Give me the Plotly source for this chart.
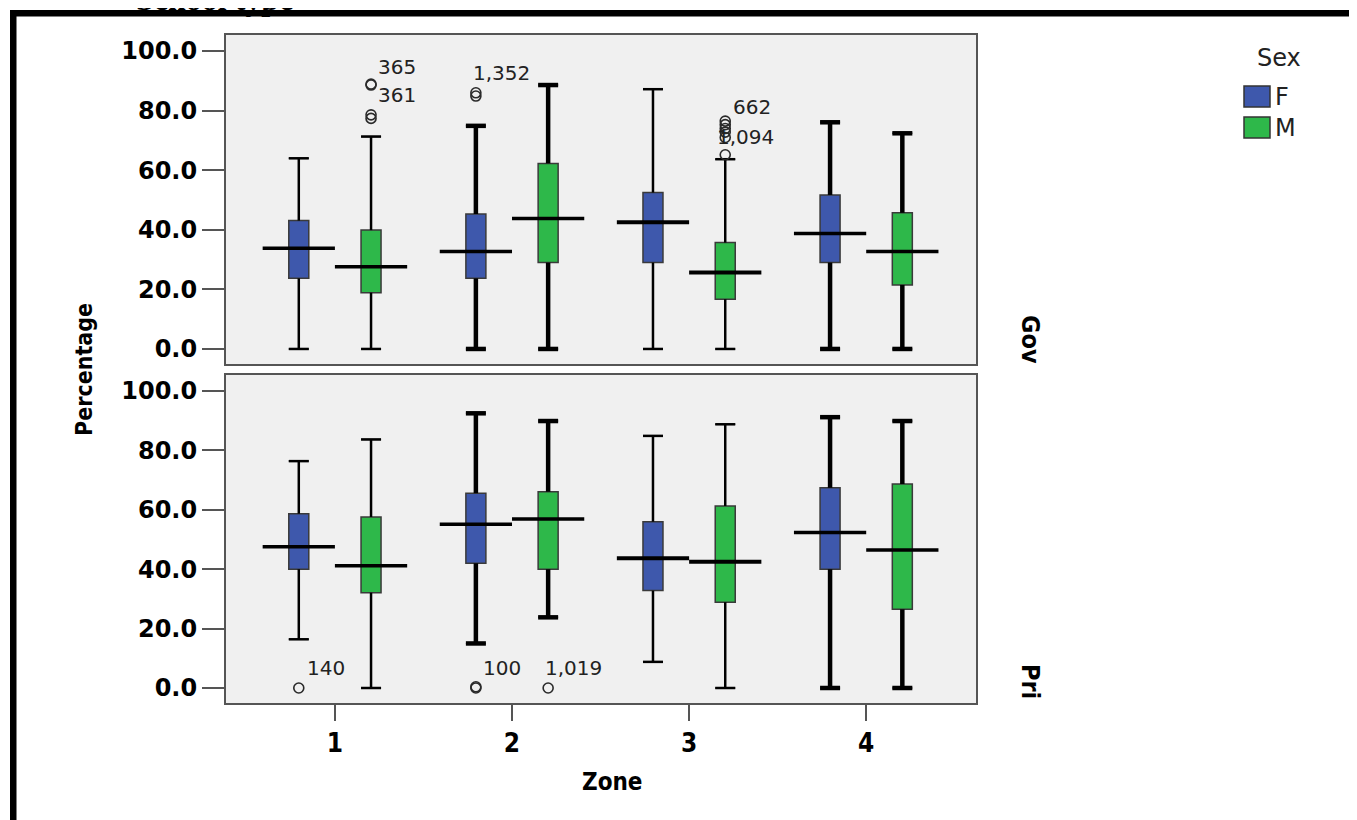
import plotly.graph_objects as go
from plotly.subplots import make_subplots

# ---------------- data ----------------
zones = [1, 2, 3, 4]
zone_labels = ["1", "2", "3", "4"]
sexes = ["F", "M"]
panels = ["Gov", "Pri"]
y_ticks = [0, 20, 40, 60, 80, 100]

# Gov (top panel)
gov_F_low = [0, 0, 0, 0]
gov_F_q1 = [23.7, 23.7, 29.0, 29.0]
gov_F_med = [33.8, 32.7, 42.5, 38.8]
gov_F_q3 = [43.1, 45.3, 52.5, 51.7]
gov_F_high = [64.0, 74.9, 87.2, 76.1]

gov_M_low = [0, 0, 0, 0]
gov_M_q1 = [18.9, 29.0, 16.7, 21.5]
gov_M_med = [27.6, 43.8, 25.7, 32.7]
gov_M_q3 = [39.9, 62.3, 35.7, 45.7]
gov_M_high = [71.3, 88.6, 63.7, 72.4]

# Pri (bottom panel)
pri_F_low = [16.4, 15.0, 8.8, 0]
pri_F_q1 = [40.0, 42.0, 32.8, 40.0]
pri_F_med = [47.6, 55.1, 43.7, 52.4]
pri_F_q3 = [58.7, 65.6, 56.0, 67.4]
pri_F_high = [76.4, 92.5, 84.9, 91.2]

pri_M_low = [0, 23.8, 0, 0]
pri_M_q1 = [32.1, 40.0, 28.9, 26.5]
pri_M_med = [41.2, 56.9, 42.5, 46.5]
pri_M_q3 = [57.6, 66.1, 61.3, 68.7]
pri_M_high = [83.7, 89.9, 88.8, 89.9]

# outliers
gov_out_zone = [1, 1, 1, 1, 2, 2, 3, 3, 3, 3, 3, 3]
gov_out_sex = ["M", "M", "M", "M", "F", "F", "M", "M", "M", "M", "M", "M"]
gov_out_val = [88.9, 88.6, 78.6, 77.4, 86.0, 84.9, 76.5, 75.3, 74.0, 72.8, 71.0, 65.2]

pri_out_zone = [1, 2, 2, 2]
pri_out_sex = ["F", "F", "F", "M"]
pri_out_val = [0, 0, 0.4, 0]

# outlier case labels
gov_lab_text = ["365", "361", "1,352", "662", "1,094"]
gov_lab_zone = [1, 1, 2, 3, 3]
gov_lab_sex = ["M", "M", "F", "M", "M"]
gov_lab_val = [88.9, 88.6, 86.0, 76.5, 71.0]

pri_lab_text = ["140", "100", "1,019"]
pri_lab_zone = [1, 2, 2]
pri_lab_sex = ["F", "F", "M"]
pri_lab_val = [0, 0, 0]

# ---------------- styling / layout ----------------
# window coordinates (the page adds an 8px body margin)
OFF = 8
WIN_W, WIN_H = 1357, 820
L, R, T, B = 226, 976, 35, 703
TOP_BOTTOM_PX = 364
BOT_TOP_PX = 375


def px_x(p):
    return (p - L) / (R - L)


def px_y(p):
    return (B - p) / (B - T)


BLUE = "#3E58AC"
GREEN = "#2EB84A"
colors = {"F": BLUE, "M": GREEN}
sex_offset = {"F": -0.204, "M": 0.204}
box_w = 0.113
med_half = 0.204
whisk_width = [2.5, 4.5, 2.5, 4.5]
med_width = [3.5, 3.5, 4.0, 3.5]

COND = "DejaVu Sans Condensed, Liberation Sans Narrow, Arial Narrow, sans-serif"
WIDE = "DejaVu Sans, Verdana, sans-serif"

stats = {
    ("Gov", "F"): (gov_F_low, gov_F_q1, gov_F_med, gov_F_q3, gov_F_high),
    ("Gov", "M"): (gov_M_low, gov_M_q1, gov_M_med, gov_M_q3, gov_M_high),
    ("Pri", "F"): (pri_F_low, pri_F_q1, pri_F_med, pri_F_q3, pri_F_high),
    ("Pri", "M"): (pri_M_low, pri_M_q1, pri_M_med, pri_M_q3, pri_M_high),
}
outliers = {
    "Gov": (gov_out_zone, gov_out_sex, gov_out_val),
    "Pri": (pri_out_zone, pri_out_sex, pri_out_val),
}
labels = {
    "Gov": (gov_lab_text, gov_lab_zone, gov_lab_sex, gov_lab_val),
    "Pri": (pri_lab_text, pri_lab_zone, pri_lab_sex, pri_lab_val),
}
# pixel shifts of the case-number labels (xshift, yshift)
label_shift = {
    "365": (5, 17), "361": (5, -10), "1,352": (-5, 20), "662": (6, 14),
    "1,094": (-10, 0), "140": (6, 20), "100": (5, 20), "1,019": (-5, 20),
}

fig = make_subplots(rows=2, cols=1)

for r, panel in enumerate(panels, start=1):
    for sex in sexes:
        low, q1, med, q3, high = stats[(panel, sex)]
        xs = [z + sex_offset[sex] for z in zones]
        fig.add_trace(go.Box(
            x=xs, q1=q1, median=med, q3=q3, lowerfence=low, upperfence=high,
            width=box_w, fillcolor=colors[sex],
            line=dict(color="#3a3a3a", width=1.5), whiskerwidth=1,
            boxpoints=False, showlegend=False, name=sex, hoverinfo="skip"),
            row=r, col=1)
        for i, c in enumerate(xs):
            wx = [c, c, None, c, c, None,
                  c - box_w / 2, c + box_w / 2, None, c - box_w / 2, c + box_w / 2]
            wy = [low[i], q1[i], None, q3[i], high[i], None,
                  low[i], low[i], None, high[i], high[i]]
            fig.add_trace(go.Scatter(
                x=wx, y=wy, mode="lines",
                line=dict(color="black", width=whisk_width[i]),
                showlegend=False, hoverinfo="skip"), row=r, col=1)
            fig.add_trace(go.Scatter(
                x=[c - med_half, c + med_half], y=[med[i], med[i]], mode="lines",
                line=dict(color="black", width=med_width[i]),
                showlegend=False, hoverinfo="skip"), row=r, col=1)
    oz, osx, ov = outliers[panel]
    fig.add_trace(go.Scatter(
        x=[z + sex_offset[s] for z, s in zip(oz, osx)], y=ov, mode="markers",
        marker=dict(symbol="circle-open", size=10, color="#2a2a2a",
                    line=dict(width=1.6, color="#2a2a2a")),
        showlegend=False, hoverinfo="skip"), row=r, col=1)
    lt, lz, ls, lv = labels[panel]
    xref = "x" if r == 1 else "x2"
    yref = "y" if r == 1 else "y2"
    for t, z, s, v in zip(lt, lz, ls, lv):
        dx, dy = label_shift[t]
        fig.add_annotation(
            x=z + sex_offset[s], y=v, xref=xref, yref=yref, text=t,
            showarrow=False, xanchor="left", yanchor="middle",
            xshift=dx, yshift=dy,
            font=dict(family=WIDE, size=20, color="#222222"))

yax = dict(
    range=[-5.05, 105.4], tickvals=y_ticks,
    ticktext=["{:.1f}".format(v) for v in y_ticks],
    ticks="outside", ticklen=22, tickwidth=2, tickcolor="#555555",
    showline=True, linewidth=2, linecolor="#555555", mirror=True,
    showgrid=False, zeroline=False,
    tickfont=dict(family=WIDE, size=24, color="black", weight="bold"))
xax = dict(
    range=[0.385, 4.62], tickvals=zones, ticktext=zone_labels,
    showline=True, linewidth=2, linecolor="#555555", mirror=True,
    showgrid=False, zeroline=False)

fig.update_layout(
    width=WIN_W - OFF, height=WIN_H - OFF,
    margin=dict(l=L - OFF, r=WIN_W - R, t=T - OFF, b=WIN_H - B),
    paper_bgcolor="white", plot_bgcolor="#F0F0F0",
    boxmode="overlay", showlegend=False,
    xaxis=dict(xax, showticklabels=False, ticks="", domain=[0, 1]),
    xaxis2=dict(xax, ticks="outside", ticklen=16, tickwidth=2, tickcolor="#555555",
                domain=[0, 1],
                tickfont=dict(family=COND, size=26, color="black", weight="bold")),
    yaxis=dict(yax, domain=[px_y(TOP_BOTTOM_PX), 1]),
    yaxis2=dict(yax, domain=[0, px_y(BOT_TOP_PX)]),
)


def label(text, xp, yp, size, family=COND, angle=0, xanchor="center", bold=True,
          color="black"):
    fig.add_annotation(x=px_x(xp), y=px_y(yp), xref="paper", yref="paper",
                       text=text, textangle=angle, showarrow=False,
                       xanchor=xanchor, yanchor="middle",
                       font=dict(family=family, size=size, color=color,
                                 weight="bold" if bold else "normal"))


# axis titles & facet labels
label("Percentage", 84, 370, 23, angle=-90)
label("Zone", 612, 782, 24)
label(panels[0], 1031, 340, 25, angle=90)
label(panels[1], 1031, 682, 25, angle=90)

# legend (drawn manually)
label("Sex", 1279, 58, 24, family=WIDE, bold=False, color="#222222")
for i, sex in enumerate(sexes):
    top = 86 + i * 31
    fig.add_shape(type="rect", xref="paper", yref="paper",
                  x0=px_x(1244), x1=px_x(1270), y0=px_y(top + 21), y1=px_y(top),
                  fillcolor=colors[sex], line=dict(color="#333333", width=1.5))
    label(sex, 1273, top + 11, 24, family=WIDE, xanchor="left", bold=False,
          color="#222222")

# outer frame of the pasted figure (top and left edges visible)
fig.add_shape(type="rect", xref="paper", yref="paper",
              x0=px_x(10), x1=px_x(1400), y0=px_y(16.5), y1=px_y(10),
              fillcolor="black", line=dict(width=0), layer="above")
fig.add_shape(type="rect", xref="paper", yref="paper",
              x0=px_x(10), x1=px_x(16.5), y0=px_y(840), y1=px_y(10),
              fillcolor="black", line=dict(width=0), layer="above")

# cut-off heading at the very top
label("School type", 134, -1, 32, family="Liberation Serif, Times New Roman, serif",
      xanchor="left")

fig.write_html("out.html")
